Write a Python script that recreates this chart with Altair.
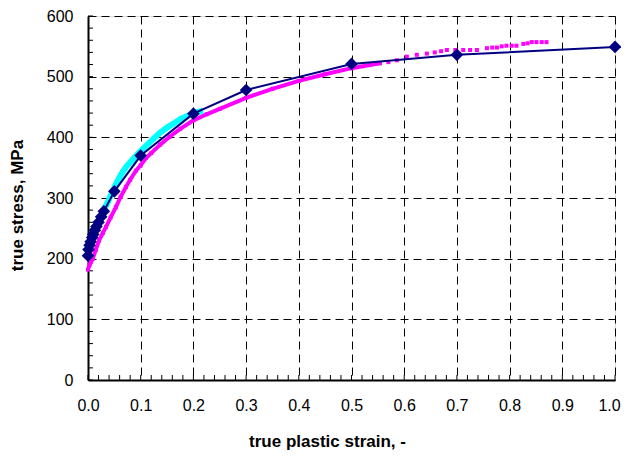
import altair as alt
import pandas as pd

# Navy model curve (diamonds + line)
model_x = [0.0, 0.001, 0.003, 0.005, 0.008, 0.010, 0.013, 0.016, 0.020, 0.025, 0.030, 0.05, 0.10, 0.20, 0.30, 0.50, 0.70, 1.00]
model_y = [205, 215, 222, 228, 235, 240, 247, 253, 260, 269, 278, 311, 370, 439, 478, 521, 536, 549]

# Magenta measured data
mag_x = [0.0, 0.003, 0.006, 0.009, 0.015, 0.021, 0.028, 0.034, 0.043, 0.053, 0.062, 0.072, 0.080, 0.091,
         0.100, 0.110, 0.120, 0.137, 0.155, 0.175, 0.200, 0.225, 0.250, 0.300, 0.350, 0.400, 0.450, 0.500,
         0.554, 0.570, 0.586, 0.605, 0.624, 0.643, 0.658, 0.670, 0.681, 0.697, 0.712, 0.725, 0.738, 0.757,
         0.767, 0.776, 0.785, 0.794, 0.804, 0.813, 0.826, 0.834, 0.842, 0.851, 0.861, 0.870]
mag_y = [182, 190, 195, 200, 215, 230, 242, 252, 268, 285, 302, 318, 330, 345,
         354, 366, 374, 388, 401, 414, 428, 438, 447, 465, 480, 493, 504, 514,
         522, 524, 527, 533, 536, 538, 540, 542, 544, 544, 544, 544, 544, 547,
         548, 548, 550, 551, 551, 551, 554, 555, 557, 557, 557, 557]

# Cyan measured data
cyan_x = [0.030, 0.034, 0.040, 0.047, 0.055, 0.063, 0.072, 0.085, 0.097, 0.110, 0.125, 0.137, 0.150, 0.165, 0.175, 0.190, 0.206, 0.218]
cyan_y = [282, 287, 298, 312, 326, 339, 351, 364, 375, 386, 398, 408, 416, 424, 430, 436, 441, 444]

x_labels = [0.0, 0.1, 0.2, 0.3, 0.4, 0.5, 0.6, 0.7, 0.8, 0.9, 1.0]
y_labels = [0, 100, 200, 300, 400, 500, 600]
x_minor = [round(i * 0.02, 2) for i in range(51)]
y_minor = [i * 20 for i in range(31)]

FONT = "Liberation Sans"

xs = alt.Scale(domain=[0, 1], nice=False, zero=False)
ys = alt.Scale(domain=[0, 600], nice=False, zero=False)

xaxis = alt.Axis(values=x_labels, format=".1f", title="true plastic strain, -",
                 grid=True, gridColor="black", gridDash=[8, 5], gridWidth=1,
                 ticks=False, labelPadding=17, labelFontSize=16, labelFont=FONT,
                 labelFlush=False, labelOverlap=False,
                 labelOffset={"condition": {"test": "datum.value == 1", "value": -6}, "value": 0},
                 labelColor="black", domainColor="black", domainWidth=2,
                 titleFont=FONT, titleFontSize=17, titleFontWeight="bold", titleColor="black",
                 titleX=239, titleY=66, titleBaseline="alphabetic", titleAlign="center")
yaxis = alt.Axis(values=y_labels, format="d", title="true stress, MPa",
                 grid=True, gridColor="black", gridDash=[8, 5], gridWidth=1,
                 ticks=False, labelPadding=15, labelFontSize=16, labelFont=FONT,
                 labelFlush=False, labelOverlap=False,
                 labelColor="black", domainColor="black", domainWidth=2,
                 titleFont=FONT, titleFontSize=17, titleFontWeight="bold", titleColor="black",
                 titleX=-71, titleY=189, titleAngle=270, titleBaseline="middle", titleAlign="center")

X = alt.X("x:Q", scale=xs, axis=xaxis)
Y = alt.Y("y:Q", scale=ys, axis=yaxis)

model = pd.DataFrame({"x": model_x, "y": model_y})
mag = pd.DataFrame({"x": mag_x, "y": mag_y})
cyan = pd.DataFrame({"x": cyan_x, "y": cyan_y})
mag_dense = mag[mag["x"] <= 0.56]

xt = pd.DataFrame({"x": x_minor})
yt = pd.DataFrame({"y": y_minor})

xticks = alt.Chart(xt).mark_rule(color="black", strokeWidth=1).encode(
    x=X, y=alt.value(364), y2=alt.value(359))
yticks = alt.Chart(yt).mark_rule(color="black", strokeWidth=1).encode(
    y=Y, x=alt.value(0), x2=alt.value(5))

mag_line = alt.Chart(mag_dense).mark_line(color="#FF00FF", strokeWidth=4).encode(x=X, y=Y)
mag_pts = alt.Chart(mag).mark_point(shape="square", filled=True, size=16, color="#FF00FF", opacity=1).encode(x=X, y=Y)
cyan_line = alt.Chart(cyan).mark_line(color="#00FFFF", strokeWidth=6).encode(x=X, y=Y)
model_line = alt.Chart(model).mark_line(color="#000080", strokeWidth=2).encode(x=X, y=Y)
model_pts = alt.Chart(model).mark_point(shape="diamond", filled=True, size=160, color="#000080", opacity=1).encode(x=X, y=Y)

chart = alt.layer(xticks, yticks, mag_line, mag_pts, cyan_line, model_line, model_pts).properties(
    width=527, height=364,
    autosize=alt.AutoSizeParams(type="none"),
    padding={"left": 80, "top": 8, "right": 6, "bottom": 70},
).configure_view(stroke="black", strokeWidth=2).configure(background="white")

chart.save("out.html", embed_options={"renderer": "svg", "actions": False})
